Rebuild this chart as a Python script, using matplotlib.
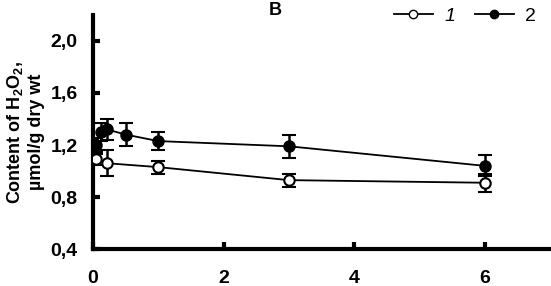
import matplotlib
matplotlib.use("Agg")
import matplotlib.pyplot as plt
from matplotlib.lines import Line2D

plt.rcParams['font.family'] = ['Liberation Sans', 'DejaVu Sans']
plt.rcParams['mathtext.default'] = 'regular'

# Data
x1 = [0.04, 0.21, 1, 3, 6]
y1 = [1.09, 1.06, 1.03, 0.93, 0.91]
e1 = [0.04, 0.10, 0.05, 0.05, 0.07]

x2 = [0.04, 0.12, 0.21, 0.5, 1, 3, 6]
y2 = [1.20, 1.30, 1.32, 1.28, 1.23, 1.19, 1.04]
e2 = [0.05, 0.07, 0.08, 0.09, 0.07, 0.09, 0.08]

xticks = [0, 2, 4, 6]
yticks = [0.4, 0.8, 1.2, 1.6, 2.0]
ytick_labels = ["0,4", "0,8", "1,2", "1,6", "2,0"]

fig = plt.figure(figsize=(5.51, 2.86), dpi=100)
ax = fig.add_axes([0.169, 0.129, 0.829, 0.819])

ax.errorbar(x1, y1, yerr=e1, fmt='-o', color='black', mfc='white', mec='black',
            ms=7.5, mew=1.5, lw=1.3, capsize=5, elinewidth=1.8, capthick=1.8, zorder=3)
ax.errorbar(x2, y2, yerr=e2, fmt='-o', color='black', mfc='black', mec='black',
            ms=7.5, mew=1.5, lw=1.3, capsize=5, elinewidth=1.8, capthick=1.8, zorder=3)

ax.set_xlim(0, 7)
ax.set_ylim(0.4, 2.2)
ax.set_xticks(xticks)
ax.set_xticklabels([str(t) for t in xticks])
ax.set_yticks(yticks)
ax.set_yticklabels(ytick_labels)
for s in ['top', 'right']:
    ax.spines[s].set_visible(False)
for s in ['left', 'bottom']:
    ax.spines[s].set_linewidth(3)
ax.tick_params(direction='in', length=5, width=3, labelsize=14)
ax.tick_params(axis='x', pad=15)
ax.tick_params(axis='y', pad=11)
for lab in ax.get_xticklabels() + ax.get_yticklabels():
    lab.set_fontweight('bold')

ax.set_ylabel("Content of H$_2$O$_2$,\nµmol/g dry wt", fontsize=13, fontweight='bold', labelpad=4)
ax.yaxis.label.set_linespacing(1.25)

fig.text(0.499, 0.965, "B", fontsize=13, fontweight='bold', ha='center', va='center')

h1 = Line2D([], [], color='black', marker='o', mfc='white', mec='black', ms=6, lw=1.3)
h2 = Line2D([], [], color='black', marker='o', mfc='black', mec='black', ms=6, lw=1.3)
leg = fig.legend([h1, h2], ["1", "2"], loc='upper right', bbox_to_anchor=(1.005, 1.035),
                 ncol=2, frameon=False, fontsize=14, handlelength=2.0, handletextpad=0.6,
                 columnspacing=1.0)
leg.get_texts()[0].set_style('italic')

fig.savefig("out.png", dpi=100)
